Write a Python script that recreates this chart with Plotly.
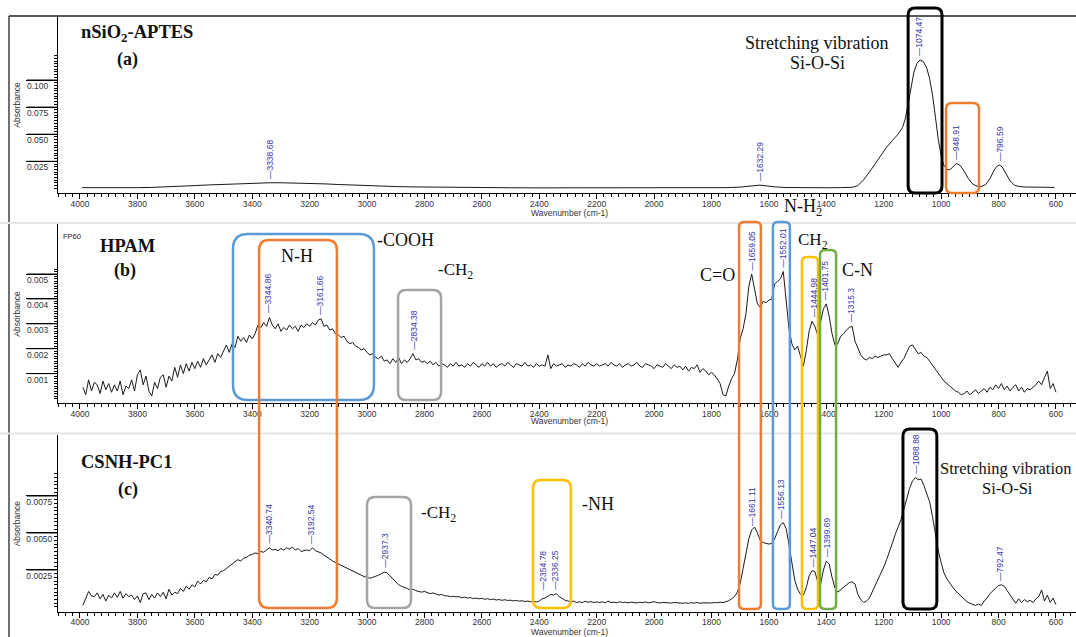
import numpy as np
import plotly.graph_objects as go

W, H = 1076, 637

# ---------------- data ----------------
# (a) nSiO2-APTES: wavenumber (cm-1) and absorbance
SIO2_WN = [3993, 3950, 3900, 3850, 3800, 3750, 3700, 3650, 3600, 3550,
           3500, 3450, 3400, 3338, 3300, 3250, 3200, 3150, 3100, 3050,
           3000, 2950, 2900, 2850, 2800, 2700, 2600, 2500, 2400, 2300,
           2200, 2100, 2000, 1900, 1800, 1750, 1700, 1670, 1650, 1632,
           1610, 1580, 1540, 1500, 1450, 1400, 1350, 1310, 1290, 1270,
           1250, 1230, 1210, 1190, 1170, 1150, 1135, 1125, 1115, 1105,
           1095, 1085, 1074, 1062, 1050, 1040, 1030, 1020, 1010, 1000,
           990, 980, 970, 960, 948, 935, 920, 905, 890, 875,
           860, 845, 830, 815, 805, 797, 788, 775, 760, 745,
           730, 710, 690, 660, 630, 605]
SIO2_ABS = [0.0007, 0.0006, 0.0006, 0.0005, 0.0007, 0.0009, 0.0013, 0.0019, 0.0026, 0.0032,
            0.0038, 0.0043, 0.0048, 0.0052, 0.0052, 0.0050, 0.0047, 0.0042, 0.0036, 0.0030,
            0.0025, 0.0020, 0.0017, 0.0014, 0.0012, 0.0009, 0.0007, 0.0006, 0.0005, 0.0005,
            0.0004, 0.0004, 0.0004, 0.0004, 0.0005, 0.0007, 0.0012, 0.0020, 0.0026, 0.0030,
            0.0024, 0.0014, 0.0008, 0.0006, 0.0006, 0.0006, 0.0007, 0.0010, 0.0025, 0.0080,
            0.0150, 0.0230, 0.0300, 0.0380, 0.0440, 0.0500, 0.0560, 0.0640, 0.0780, 0.0940,
            0.1070, 0.1150, 0.1185, 0.1170, 0.1110, 0.1010, 0.0860, 0.0660, 0.0450, 0.0300,
            0.0210, 0.0175, 0.0172, 0.0195, 0.0230, 0.0215, 0.0160, 0.0090, 0.0040, 0.0020,
            0.0018, 0.0035, 0.0090, 0.0170, 0.0205, 0.0215, 0.0200, 0.0140, 0.0070, 0.0030,
            0.0018, 0.0013, 0.0011, 0.0010, 0.0009, 0.0009]

# (b) and (c) are sampled every 10 cm-1 from 3990 down to 600 cm-1
GRID_FIRST, GRID_LAST, GRID_STEP = 3990, 600, 10

# (b) HPAM absorbance in units of 1e-3
HPAM_MABS = [
    0.45, 0.15, 0.75, 0.30, 0.65, 0.55, 0.20, 0.70, 0.35, 0.60,   # 3990-3900
    0.25, 0.55, 0.30, 0.70, 0.15, 0.50, 0.40, 0.75, 0.30, 0.95,   # 3890-3800
    1.15, 0.55, 0.90, 0.30, 0.10, 0.65, 0.40, 0.85, 0.95, 0.45,   # 3790-3700
    0.90, 0.70, 1.25, 0.85, 1.35, 1.00, 1.40, 1.10, 1.45, 1.20,   # 3690-3600
    1.50, 1.25, 1.60, 1.35, 1.55, 1.75, 1.45, 1.80, 1.65, 1.90,   # 3590-3500
    2.15, 1.85, 2.20, 2.05, 2.50, 2.30, 2.45, 2.25, 2.55, 2.40,   # 3490-3400
    2.60, 2.95, 2.85, 3.05, 2.90, 3.25, 2.95, 2.80, 3.00, 2.70,   # 3390-3300
    2.85, 2.75, 2.95, 2.80, 2.90, 2.70, 2.95, 2.85, 3.00, 2.90,   # 3290-3200
    3.05, 2.95, 3.15, 3.20, 2.90, 2.95, 2.75, 2.80, 2.60, 2.55,   # 3190-3100
    2.45, 2.50, 2.30, 2.20, 2.25, 2.10, 2.05, 1.95, 2.00, 1.85,   # 3090-3000
    1.75, 1.80, 1.65, 1.60, 1.70, 1.50, 1.55, 1.40, 1.60, 1.45,   # 2990-2900
    1.65, 1.40, 1.55, 1.45, 1.60, 1.80, 1.55, 1.60, 1.45, 1.50,   # 2890-2800
    1.40, 1.50, 1.35, 1.45, 1.30, 1.40, 1.35, 1.25, 1.40, 1.30,   # 2790-2700
    1.45, 1.30, 1.35, 1.25, 1.40, 1.30, 1.45, 1.35, 1.25, 1.40,   # 2690-2600
    1.30, 1.45, 1.30, 1.40, 1.25, 1.35, 1.40, 1.30, 1.45, 1.35,   # 2590-2500
    1.25, 1.40, 1.35, 1.30, 1.45, 1.30, 1.35, 1.25, 1.40, 1.30,   # 2490-2400
    1.35, 1.30, 1.75, 1.20, 1.40, 1.30, 1.35, 1.40, 1.25, 1.35,   # 2390-2300
    1.30, 1.40, 1.35, 1.25, 1.40, 1.30, 1.45, 1.35, 1.30, 1.40,   # 2290-2200
    1.30, 1.35, 1.40, 1.30, 1.45, 1.35, 1.30, 1.40, 1.25, 1.35,   # 2190-2100
    1.40, 1.30, 1.35, 1.45, 1.30, 1.25, 1.40, 1.35, 1.30, 1.20,   # 2090-2000
    1.35, 1.30, 1.25, 1.40, 1.30, 1.20, 1.35, 1.25, 1.30, 1.15,   # 1990-1900
    1.30, 1.10, 1.25, 1.20, 1.35, 1.05, 1.20, 1.10, 0.95, 1.05,   # 1890-1800
    0.95, 0.75, 0.60, 0.15, 0.10, 0.50, 0.80, 1.00, 1.55, 2.40,   # 1790-1700
    2.80, 3.40, 4.50, 5.00, 4.40, 3.80, 3.65, 3.90, 3.85, 3.95,   # 1690-1600
    4.00, 4.60, 4.70, 4.80, 5.10, 3.80, 2.80, 2.20, 1.95, 2.10,   # 1590-1500
    1.70, 1.30, 1.90, 2.70, 3.10, 2.90, 2.55, 3.10, 3.60, 3.80,   # 1490-1400
    3.30, 2.60, 2.15, 2.20, 2.50, 2.60, 2.75, 2.85, 2.90, 2.30,   # 1390-1300
    2.00, 1.75, 1.60, 1.55, 1.65, 1.60, 1.70, 1.65, 1.70, 1.75,   # 1290-1200
    1.75, 1.80, 1.60, 1.40, 1.25, 1.45, 1.60, 1.85, 2.10, 2.15,   # 1190-1100
    1.95, 1.80, 1.85, 1.70, 1.65, 1.50, 1.35, 1.20, 1.05, 0.90,   # 1090-1000
    0.70, 0.60, 0.50, 0.40, 0.30, 0.25, 0.15, 0.20, 0.30, 0.15,   # 990-900
    0.25, 0.35, 0.20, 0.30, 0.40, 0.25, 0.45, 0.35, 0.55, 0.40,   # 890-800
    0.60, 0.35, 0.50, 0.30, 0.45, 0.55, 0.30, 0.45, 0.25, 0.40,   # 790-700
    0.35, 0.45, 0.55, 0.70, 0.55, 0.85, 1.10, 0.40, 0.60, 0.25,   # 690-600
]

# (c) CSNH-PC1 absorbance in units of 1e-3
CSNH_MABS = [
    0.10, 0.60, 1.05, 0.75, 0.70, 0.95, 0.55, 0.85, 0.40, 0.80,   # 3990-3900
    0.60, 0.95, 0.65, 1.05, 0.60, 0.90, 0.70, 0.80, 0.50, 0.75,   # 3890-3800
    0.30, 0.90, 0.95, 0.50, 0.85, 0.60, 0.95, 0.70, 1.00, 0.55,   # 3790-3700
    1.20, 0.80, 1.00, 0.90, 1.25, 1.05, 1.40, 1.20, 1.50, 1.35,   # 3690-3600
    1.75, 1.55, 1.80, 1.70, 2.00, 1.90, 2.20, 2.15, 2.40, 2.45,   # 3590-3500
    2.60, 2.75, 2.90, 3.00, 3.20, 3.10, 3.30, 3.35, 3.50, 3.55,   # 3490-3400
    3.65, 3.60, 3.75, 3.70, 3.85, 4.00, 3.85, 3.90, 3.80, 3.95,   # 3390-3300
    3.85, 4.00, 3.90, 4.05, 3.85, 3.95, 3.75, 3.80, 3.85, 3.80,   # 3290-3200
    4.00, 3.80, 3.75, 3.65, 3.50, 3.40, 3.25, 3.10, 3.00, 2.95,   # 3190-3100
    2.80, 2.75, 2.65, 2.50, 2.45, 2.30, 2.25, 2.10, 2.05, 2.00,   # 3090-3000
    1.95, 2.00, 2.05, 2.15, 2.25, 2.35, 2.30, 2.10, 1.90, 1.70,   # 2990-2900
    1.50, 1.40, 1.35, 1.25, 1.15, 1.20, 1.10, 1.05, 1.00, 1.05,   # 2890-2800
    0.95, 0.90, 0.95, 0.85, 0.80, 0.85, 0.75, 0.75, 0.70, 0.72,   # 2790-2700
    0.68, 0.70, 0.62, 0.66, 0.60, 0.63, 0.57, 0.60, 0.55, 0.58,   # 2690-2600
    0.52, 0.56, 0.50, 0.53, 0.47, 0.50, 0.45, 0.49, 0.44, 0.46,   # 2590-2500
    0.41, 0.44, 0.39, 0.42, 0.37, 0.40, 0.35, 0.38, 0.34, 0.40,   # 2490-2400
    0.55, 0.60, 0.75, 0.85, 0.80, 0.90, 0.70, 0.55, 0.45, 0.40,   # 2390-2300
    0.35, 0.40, 0.30, 0.35, 0.30, 0.38, 0.32, 0.36, 0.30, 0.34,   # 2290-2200
    0.30, 0.35, 0.28, 0.40, 0.30, 0.33, 0.28, 0.35, 0.30, 0.32,   # 2190-2100
    0.28, 0.33, 0.30, 0.27, 0.32, 0.29, 0.34, 0.28, 0.31, 0.36,   # 2090-2000
    0.30, 0.27, 0.31, 0.28, 0.30, 0.26, 0.30, 0.27, 0.29, 0.25,   # 1990-1900
    0.28, 0.25, 0.29, 0.26, 0.30, 0.25, 0.28, 0.26, 0.29, 0.27,   # 1890-1800
    0.30, 0.28, 0.32, 0.30, 0.35, 0.42, 0.55, 0.70, 1.00, 1.60,   # 1790-1700
    2.60, 3.70, 4.60, 5.20, 5.40, 5.00, 4.50, 4.35, 4.30, 4.25,   # 1690-1600
    4.30, 4.60, 5.10, 5.55, 5.70, 5.30, 4.20, 2.90, 1.80, 1.20,   # 1590-1500
    0.85, 0.80, 1.30, 2.10, 2.45, 2.40, 1.70, 1.55, 2.50, 3.10,   # 1490-1400
    2.90, 2.00, 1.30, 1.00, 1.15, 1.35, 1.50, 1.65, 1.70, 1.55,   # 1390-1300
    0.85, 0.50, 0.30, 0.40, 0.60, 1.00, 1.50, 1.90, 2.30, 2.70,   # 1290-1200
    3.20, 3.70, 4.30, 4.90, 5.40, 5.90, 6.60, 7.30, 8.00, 8.50,   # 1190-1100
    8.75, 8.60, 8.65, 8.20, 7.60, 7.10, 6.10, 4.90, 3.80, 3.00,   # 1090-1000
    2.30, 1.90, 1.60, 1.35, 1.10, 0.90, 0.75, 0.55, 0.35, 0.25,   # 990-900
    0.15, 0.10, 0.20, 0.10, 0.40, 0.60, 0.90, 1.10, 1.30, 1.45,   # 890-800
    1.50, 1.40, 1.10, 0.80, 0.50, 0.25, 0.55, 0.30, 0.50, 0.35,   # 790-700
    0.45, 0.30, 0.55, 0.70, 1.15, 0.40, 0.80, 0.30, 0.60, 0.15,   # 690-600
]

# peak labels
PEAKS_A = [3338.68, 1632.29, 1074.47, 948.91, 796.59]
PEAKS_B = [3344.86, 3161.66, 2834.38, 1659.05, 1552.01, 1444.98, 1401.75, 1315.3]
PEAKS_C = [3340.74, 3192.54, 2937.3, 2354.78, 2336.25, 1661.11, 1556.13,
           1447.04, 1399.69, 1088.88, 792.47]
# labels that are nudged sideways in the reference so they do not overlap (px)
PEAK_NUDGE = {2354.78: -9, 2336.25: -2}

# axis ticks
X_TICKS = [4000, 3800, 3600, 3400, 3200, 3000, 2800, 2600, 2400, 2200,
           2000, 1800, 1600, 1400, 1200, 1000, 800, 600]
Y_TICKS_A = [0.025, 0.050, 0.075, 0.100]
Y_TEXT_A = ["0.025", "0.050", "0.075", "0.100"]
Y_TICKS_B = [0.001, 0.002, 0.003, 0.004, 0.005]
Y_TEXT_B = ["0.001", "0.002", "0.003", "0.004", "0.005"]
Y_TICKS_C = [0.0025, 0.0050, 0.0075]
Y_TEXT_C = ["0.0025", "0.0050", "0.0075"]

# ---------------- layout geometry ----------------
X_RANGE = [4076.6, 530.2]
PLOT_LEFT = 58
TICK_END = 27
PX_PER_WN = (W - PLOT_LEFT) / (X_RANGE[0] - X_RANGE[1])


def py(p):
    return 1 - p / H


def px(p):
    return p / W


PANELS = [
    dict(top=16, bot=193.3, yr=[-0.00452, 0.15904], mtop=0.1226, mstep=0.0025,
         tv=Y_TICKS_A, tt=Y_TEXT_A, standoff=-24),
    dict(top=224, bot=403.3, yr=[-0.000193, 0.007008], mtop=0.00521, mstep=0.0001,
         tv=Y_TICKS_B, tt=Y_TEXT_B, standoff=-24),
    dict(top=435, bot=611.7, yr=[-0.00032, 0.011622], mtop=0.00901, mstep=0.00025,
         tv=Y_TICKS_C, tt=Y_TEXT_C, standoff=-28),
]

grid_wn = np.arange(GRID_FIRST, GRID_LAST - 1, -GRID_STEP)
spectra = [
    (np.array(SIO2_WN, float), np.array(SIO2_ABS, float)),
    (grid_wn, np.array(HPAM_MABS) / 1000.0),
    (grid_wn, np.array(CSNH_MABS) / 1000.0),
]

fig = go.Figure()
TICK_FONT = dict(family="Liberation Sans, Arial, sans-serif", size=8.5, color="#333333")
shapes = []

for i, (wn, ab) in enumerate(spectra):
    sfx = "" if i == 0 else str(i + 1)
    fig.add_trace(go.Scatter(x=wn, y=ab, mode="lines",
                             line=dict(color="#1a1a1a", width=1),
                             xaxis="x" + sfx, yaxis="y" + sfx,
                             hoverinfo="skip", showlegend=False))
    p = PANELS[i]
    fig.layout["xaxis" + sfx] = dict(
        domain=[px(PLOT_LEFT), 1], range=X_RANGE, anchor="y" + sfx,
        showline=True, linecolor="#000", linewidth=1, mirror=False,
        ticks="outside", ticklen=5, tickwidth=1, tickcolor="#000",
        tickmode="array", tickvals=X_TICKS, ticktext=[str(v) for v in X_TICKS],
        ticklabelstandoff=-3,
        tickfont=TICK_FONT, showgrid=False, zeroline=False, automargin=False,
        minor=dict(ticks="outside", ticklen=3, tickcolor="#000", tickmode="linear",
                   tick0=0, dtick=25, showgrid=False),
    )
    fig.layout["yaxis" + sfx] = dict(
        domain=[py(p["bot"]), py(p["top"])], range=p["yr"], anchor="x" + sfx,
        showline=True, linecolor="#000", linewidth=1,
        ticks="outside", ticklen=31, tickwidth=1, tickcolor="#000",
        tickmode="array", tickvals=p["tv"], ticktext=p["tt"],
        ticklabelstandoff=p["standoff"], ticklabelshift=6,
        tickfont=TICK_FONT, showgrid=False, zeroline=False, automargin=False,
        minor=dict(ticks="outside", ticklen=3, tickcolor="#000", tickmode="array",
                   tickvals=list(np.arange(0, p["mtop"], p["mstep"])), showgrid=False),
    )
    # long label rules of the spectrometer style axis
    for v in p["tv"]:
        shapes.append(dict(type="line", xref="paper", yref="y" + sfx,
                           x0=px(TICK_END), x1=px(PLOT_LEFT), y0=v, y1=v,
                           line=dict(color="#000", width=1)))

# ---------------- frame lines ----------------
shapes += [
    dict(type="line", xref="paper", yref="paper", x0=px(9), x1=px(9), y0=py(16), y1=0,
         line=dict(color="#222", width=1.3)),
    dict(type="line", xref="paper", yref="paper", x0=px(9), x1=1, y0=py(16), y1=py(16),
         line=dict(color="#222", width=1.3)),
    dict(type="line", xref="paper", yref="paper", x0=0, x1=1, y0=py(223), y1=py(223),
         line=dict(color="#e6e6e6", width=2)),
    dict(type="line", xref="paper", yref="paper", x0=0, x1=1, y0=py(433.5), y1=py(433.5),
         line=dict(color="#e6e6e6", width=2)),
]

ORANGE, BLUE, GRAY, YELLOW, GREEN, BLACK = "#ED7D31", "#5B9BD5", "#A5A5A5", "#FFC000", "#70AD47", "#000000"

# highlight boxes: left wn, right wn, top px, bottom px, colour, corner radius px, line width
BOXES = [
    (1115, 997, 8, 193, BLACK, 7, 3),
    (983, 868, 103, 193, ORANGE, 6, 2.5),
    (3467, 2976, 234, 400, BLUE, 15, 2.5),
    (3376, 3105, 240, 608, ORANGE, 10, 2.5),
    (2892, 2742, 290, 400, GRAY, 8, 2.5),
    (1704, 1628, 222, 609, ORANGE, 5, 2.5),
    (1586, 1527, 222, 609, BLUE, 5, 2.5),
    (1485, 1429, 257, 609, YELLOW, 5, 2.5),
    (1422, 1366, 250, 609, GREEN, 5, 2.5),
    (3000, 2847, 497, 608, GRAY, 8, 2.5),
    (2422, 2290, 480, 608, YELLOW, 8, 2.5),
    (1133, 1015, 429, 609, BLACK, 7, 3),
]
for L, R, t, b, col, r, lw in BOXES:
    rx = r / PX_PER_WN
    ry = r / H
    yt, yb = py(t), py(b)
    path = (f"M {L - rx},{yt} L {R + rx},{yt} Q {R},{yt} {R},{yt - ry} "
            f"L {R},{yb + ry} Q {R},{yb} {R + rx},{yb} L {L - rx},{yb} "
            f"Q {L},{yb} {L},{yb + ry} L {L},{yt - ry} Q {L},{yt} {L - rx},{yt} Z")
    shapes.append(dict(type="path", path=path, xref="x", yref="paper",
                       line=dict(color=col, width=lw), fillcolor="rgba(0,0,0,0)"))

fig.update_layout(shapes=shapes)

# ---------------- annotations ----------------
ann = []
SERIF = "Liberation Serif, Times New Roman, serif"
SANS = "Liberation Sans, Arial, sans-serif"

for p in PANELS:
    ann.append(dict(text="Absorbance", xref="paper", yref="paper", x=px(17),
                    y=py((p["top"] + p["bot"]) / 2), textangle=-90, showarrow=False,
                    font=dict(family=SANS, size=8.5, color="#333"),
                    xanchor="center", yanchor="middle"))
for yy in (213.5, 420.5, 632):
    ann.append(dict(text="Wavenumber (cm-1)", xref="paper", yref="paper", x=px(569),
                    y=py(yy), showarrow=False, font=dict(family=SANS, size=8.5, color="#333"),
                    xanchor="center", yanchor="middle"))

# panel texts: text, x px, y px, size, bold
TEXTS = [
    ("nSiO<sub>2</sub>-APTES", 137, 33, 18.5, True),
    ("(a)", 127, 59, 18, True),
    ("Stretching vibration", 816, 43, 18, False),
    ("Si-O-Si", 817, 63, 18, False),
    ("N-H<sub>2</sub>", 803, 208, 18, False),
    ("HPAM", 127, 246, 18.5, True),
    ("(b)", 125, 270, 18, True),
    ("N-H", 297, 256, 18, False),
    ("-COOH", 405, 240, 18, False),
    ("-CH<sub>2</sub>", 455, 271, 17, False),
    ("C=O", 717, 275, 18, False),
    ("CH<sub>2</sub>", 813, 241, 17, False),
    ("C-N", 857, 270, 18, False),
    ("CSNH-PC1", 126, 462, 18.5, True),
    ("(c)", 128, 489, 18, True),
    ("-CH<sub>2</sub>", 438, 514, 17, False),
    ("-NH", 598, 504, 18, False),
    ("Stretching vibration", 1006, 468, 16.5, False),
    ("Si-O-Si", 1007, 488, 16.5, False),
]
for t, x, y, s, b in TEXTS:
    ann.append(dict(text=f"<b>{t}</b>" if b else t, xref="paper", yref="paper",
                    x=px(x), y=py(y), showarrow=False, xanchor="center", yanchor="middle",
                    font=dict(family=SERIF, size=s, color="#111")))

ann.append(dict(text="FP60", xref="paper", yref="paper", x=px(61), y=py(236),
                showarrow=False, xanchor="left", yanchor="middle",
                font=dict(family=SANS, size=7.5, color="#222")))

for i, peaks in enumerate([PEAKS_A, PEAKS_B, PEAKS_C]):
    sfx = "" if i == 0 else str(i + 1)
    wn, ab = spectra[i]
    for pk in peaks:
        near = np.abs(wn - pk) <= 8
        yv = ab[near].max() if near.any() else np.interp(pk, wn[::-1], ab[::-1])
        ann.append(dict(text="\u2014" + str(pk),
                        x=pk, y=yv, xref="x" + sfx, yref="y" + sfx,
                        showarrow=False, textangle=-90, xanchor="center", yanchor="bottom",
                        yshift=2, xshift=PEAK_NUDGE.get(pk, 0),
                        font=dict(family=SANS, size=8.5, color="#3535a8")))

fig.update_layout(annotations=ann, width=W, height=H,
                  margin=dict(l=0, r=0, t=0, b=0, autoexpand=False),
                  paper_bgcolor="white", plot_bgcolor="white", showlegend=False)

fig.write_html("out.html", config={"displayModeBar": False, "staticPlot": True},
               post_script="document.body.style.margin='0';document.body.style.overflow='hidden';")
